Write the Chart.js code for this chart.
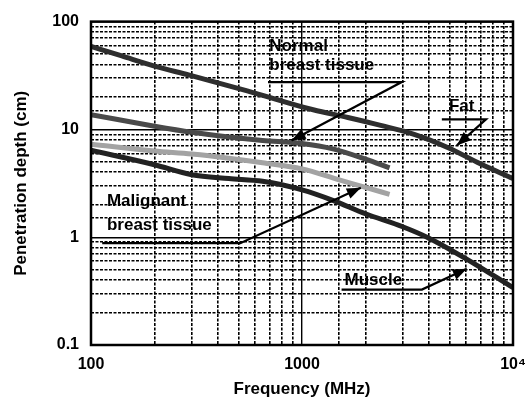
<!DOCTYPE html>
<html><head><meta charset="utf-8">
<script src="https://cdn.jsdelivr.net/npm/chart.js@4"></script>
<style>html,body{margin:0;padding:0;background:#fff}#wrap{width:526px;height:400px;position:relative}</style>
</head><body><div id="wrap"><canvas id="c"></canvas></div>
<script>
// Frequency (MHz) and penetration depth (cm)
const fatFreq = [100, 140, 200, 290, 550, 1130, 1650, 2360, 3400, 4900, 7000, 10000];
const fatDepth = [59, 48, 38.6, 32, 22.8, 15.2, 12.9, 10.9, 9.0, 6.8, 4.8, 3.5];
const normalFreq = [100, 200, 300, 450, 650, 1000, 1400, 2000, 2600];
const normalDepth = [13.7, 10.7, 9.4, 8.5, 7.9, 7.4, 6.6, 5.3, 4.4];
const malignantFreq = [100, 200, 300, 450, 650, 1000, 1500, 2000, 2600];
const malignantDepth = [7.3, 6.3, 5.9, 5.4, 4.9, 4.3, 3.4, 2.9, 2.5];
const muscleFreq = [100, 200, 300, 450, 650, 1000, 1400, 2000, 3000, 4000, 6000, 10000];
const muscleDepth = [6.4, 4.7, 3.8, 3.5, 3.3, 2.75, 2.2, 1.65, 1.25, 0.98, 0.63, 0.34];
const xTickLabels = {100: '100', 1000: '1000', 10000: '10\u2074'};
const yTickLabels = {0.1: '0.1', 1: '1', 10: '10', 100: '100'};

// annotation labels and leader arrows, in data coordinates
const notes = [
  {lines: ['Normal', 'breast tissue'], x: 700, ys: [59, 39.5], path: [[690, 27.5], [2970, 27.5], [892, 7.9]]},
  {lines: ['Fat'], x: 4970, ys: [16.3], path: [[4600, 12.4], [7450, 12.4], [5420, 7.1]]},
  {lines: ['Malignant', 'breast tissue'], x: 119, ys: [2.14, 1.29], path: [[113, 0.88], [510, 0.88], [1900, 2.88]]},
  {lines: ['Muscle'], x: 1590, ys: [0.395], path: [[1540, 0.327], [3700, 0.327], [6040, 0.51]]}
];

const FONT = '"Liberation Sans", Arial, Helvetica, sans-serif';
function isDecade(v) { const l = Math.log10(v); return Math.abs(l - Math.round(l)) < 1e-6; }
function pts(xs, ys) { return xs.map((x, i) => ({x: x, y: ys[i]})); }

const framePlugin = {
  id: 'frame',
  afterDraw(chart) {
    const {ctx, chartArea: a} = chart;
    ctx.save();
    ctx.lineWidth = 2.5;
    ctx.strokeStyle = '#000';
    ctx.strokeRect(a.left, a.top, a.right - a.left, a.bottom - a.top);
    ctx.restore();
  }
};

const notesPlugin = {
  id: 'notes',
  afterDatasetsDraw(chart) {
    const {ctx, scales: {x, y}} = chart;
    ctx.save();
    ctx.fillStyle = '#000';
    ctx.strokeStyle = '#000';
    ctx.font = 'bold 17px ' + FONT;
    ctx.textBaseline = 'middle';
    ctx.textAlign = 'left';
    notes.forEach(n => {
      n.lines.forEach((t, i) => ctx.fillText(t, x.getPixelForValue(n.x), y.getPixelForValue(n.ys[i])));
      const p = n.path.map(q => [x.getPixelForValue(q[0]), y.getPixelForValue(q[1])]);
      ctx.lineWidth = 2.2;
      ctx.beginPath();
      ctx.moveTo(p[0][0], p[0][1]);
      for (let i = 1; i < p.length; i++) ctx.lineTo(p[i][0], p[i][1]);
      ctx.stroke();
      const e = p[p.length - 1], s = p[p.length - 2];
      const ang = Math.atan2(e[1] - s[1], e[0] - s[0]);
      const L = 14, W = 5.5;
      ctx.beginPath();
      ctx.moveTo(e[0], e[1]);
      ctx.lineTo(e[0] - L * Math.cos(ang) + W * Math.sin(ang), e[1] - L * Math.sin(ang) - W * Math.cos(ang));
      ctx.lineTo(e[0] - L * Math.cos(ang) - W * Math.sin(ang), e[1] - L * Math.sin(ang) + W * Math.cos(ang));
      ctx.closePath();
      ctx.fill();
    });
    ctx.restore();
  }
};

const gridOpts = {
  drawTicks: false,
  color: '#000',
  lineWidth: c => (c.tick && isDecade(c.tick.value)) ? 1.4 : 1.6
};
const borderOpts = {
  display: false,
  dash: c => (c.tick && !isDecade(c.tick.value)) ? [3, 1.5] : []
};

new Chart(document.getElementById('c'), {
  type: 'line',
  data: {
    datasets: [
      {label: 'Fat', data: pts(fatFreq, fatDepth), borderColor: '#2e2e2e'},
      {label: 'Normal breast tissue', data: pts(normalFreq, normalDepth), borderColor: '#4a4a4a'},
      {label: 'Malignant breast tissue', data: pts(malignantFreq, malignantDepth), borderColor: '#a3a3a3'},
      {label: 'Muscle', data: pts(muscleFreq, muscleDepth), borderColor: '#222222'}
    ]
  },
  options: {
    responsive: true,
    maintainAspectRatio: false,
    animation: false,
    layout: {padding: {left: 0, right: 0, top: 18, bottom: 0}},
    elements: {
      point: {radius: 0},
      line: {borderWidth: 5, cubicInterpolationMode: 'monotone', fill: false, borderCapStyle: 'butt'}
    },
    plugins: {legend: {display: false}, tooltip: {enabled: false}},
    scales: {
      x: {
        type: 'logarithmic', min: 100, max: 10000,
        afterFit: s => { s.height = 55; s.paddingRight = 13; },
        grid: gridOpts, border: borderOpts,
        ticks: {
          autoSkip: false, maxRotation: 0, padding: 10, color: '#000',
          font: {family: FONT, size: 16, weight: 'bold'},
          callback: v => xTickLabels[v] !== undefined ? xTickLabels[v] : ''
        },
        title: {display: true, text: 'Frequency (MHz)', color: '#000',
          font: {family: FONT, size: 17, weight: 'bold'}, padding: {top: 0, bottom: 0}}
      },
      y: {
        type: 'logarithmic', min: 0.1, max: 100,
        afterFit: s => { s.width = 91; },
        grid: gridOpts, border: borderOpts,
        ticks: {
          autoSkip: false, padding: 12, color: '#000',
          font: {family: FONT, size: 16, weight: 'bold'},
          callback: v => yTickLabels[v] !== undefined ? yTickLabels[v] : ''
        },
        title: {display: true, text: 'Penetration depth (cm)', color: '#000',
          font: {family: FONT, size: 17, weight: 'bold'}, padding: {top: 11, bottom: 0}}
      }
    }
  },
  plugins: [framePlugin, notesPlugin]
});
</script>
</body></html>
